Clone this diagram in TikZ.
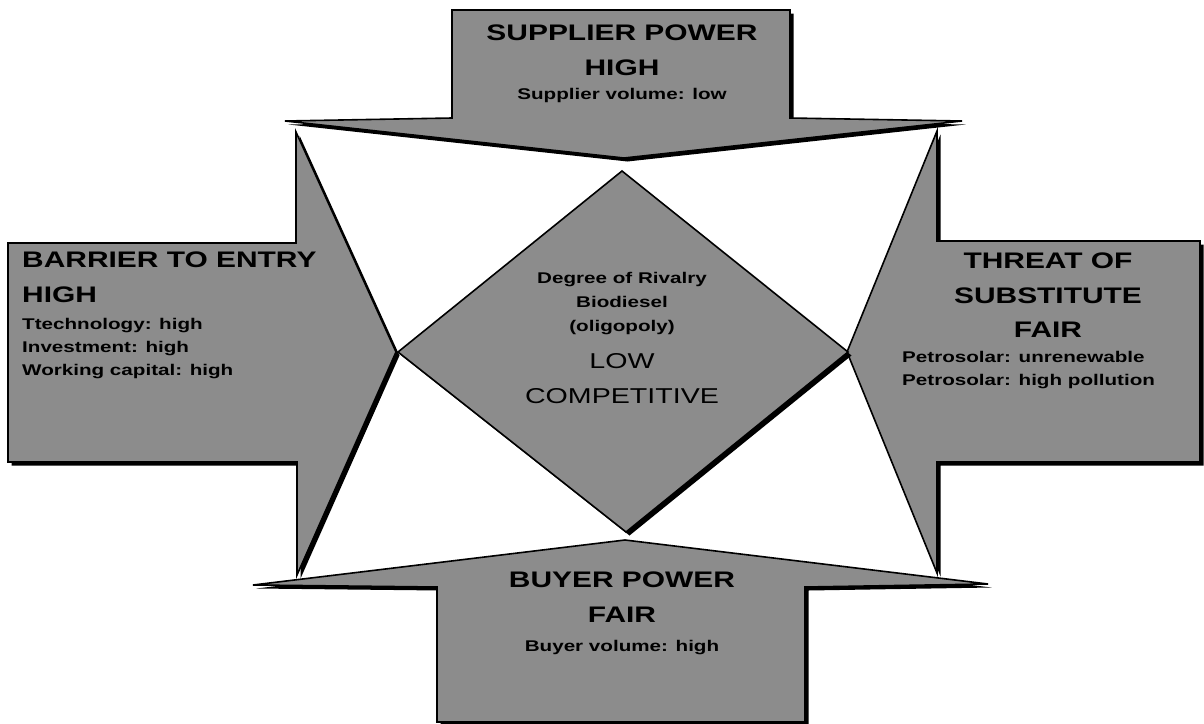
\documentclass[tikz,border=0pt]{standalone}
\usepackage{fontspec}
\setmainfont[FakeStretch=1.33]{Liberation Sans}
\usetikzlibrary{shadows}

\begin{document}
\begin{tikzpicture}[
    x=1pt, y=-1pt,
    forcebox/.style={draw=black, line width=1.6pt, line join=miter, fill=black!45,
        drop shadow={shadow xshift=3.5pt, shadow yshift=-3.5pt, fill=black, opacity=1}},
    rivalbox/.style={forcebox},
    headtext/.style={font=\fontsize{22.5}{35}\selectfont\bfseries, inner sep=0pt},
    factext/.style={font=\fontsize{15.5}{23}\selectfont\bfseries, inner sep=0pt},
    levtext/.style={font=\fontsize{21.5}{35}\selectfont, inner sep=0pt, align=center}
]
\useasboundingbox (0,0) rectangle (1204,723);
% the four forces
\filldraw[forcebox] (452,10) -- (790,10) -- (790,118) -- (962,121) -- (624,158)
    -- (285,121) -- (452,118) -- cycle;
\filldraw[forcebox] (8,243) -- (296,243) -- (296,132) -- (396,352) -- (297,575)
    -- (297,462) -- (8,462) -- cycle;
\filldraw[forcebox] (1200,241) -- (937,241) -- (937,131) -- (847,352) -- (937,573)
    -- (937,462) -- (1200,462) -- cycle;
\filldraw[forcebox] (437,722) -- (437,587) -- (253,585) -- (625,540) -- (988,584)
    -- (805,587) -- (805,722) -- cycle;
% rivalry in the middle
\filldraw[rivalbox] (622,171) -- (848,352) -- (626,532) -- (398,352) -- cycle;

\node[headtext, align=center, anchor=north] (supplier) at (622,25) {SUPPLIER POWER\\HIGH};
\node[factext, anchor=north] (suppliervol) at (622,88) {Supplier volume: low};

\node[headtext, align=left, anchor=north west] (barrier) at (22,252) {BARRIER TO ENTRY\\HIGH};
\node[factext, align=left, anchor=north west] (barrierfac) at (22,318)
    {Ttechnology: high\\Investment: high\\Working capital: high};

\node[headtext, align=center, anchor=north, font=\fontsize{22.5}{34.5}\selectfont\bfseries] (threat) at (1048,253)
    {THREAT OF\\SUBSTITUTE\\FAIR};
\node[factext, align=left, anchor=north west] (threatfac) at (902,351)
    {Petrosolar: unrenewable\\Petrosolar: high pollution};

\node[headtext, align=center, anchor=north] (buyer) at (622,572) {BUYER POWER\\FAIR};
\node[factext, anchor=north] (buyervol) at (622,640) {Buyer volume: high};

\node[factext, align=center, anchor=north, font=\fontsize{15.5}{24}\selectfont\bfseries] (rivalry) at (622,272)
    {Degree of Rivalry\\Biodiesel\\(oligopoly)};
\node[levtext, anchor=north] (level) at (622,353) {LOW\\COMPETITIVE};
\end{tikzpicture}
\end{document}
